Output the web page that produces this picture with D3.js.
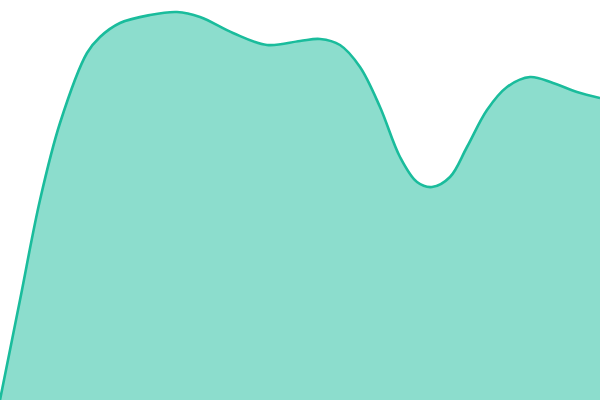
<!DOCTYPE html>
<html>
<head>
<meta charset="utf-8">
<script src="https://cdn.jsdelivr.net/npm/d3@7"></script>
<style>
  html, body { margin: 0; padding: 0; background: #fff; }
  svg { display: block; }
</style>
</head>
<body>
<svg id="chart" width="600" height="400"></svg>
<script>
"use strict";

// positions along the series (x) and values
var xs = [0, 20, 40, 60, 87, 100, 120, 150, 177, 200, 233, 267, 300, 320,
          340, 360, 380, 400, 417, 432, 450, 467, 487, 507, 530, 553, 577, 600];
var values = [0, 100, 200, 277, 347, 363, 377, 385, 388, 383, 367, 355, 359, 361,
              355, 333, 293, 243, 218, 213, 223, 253, 290, 313, 323, 317, 308, 302];

var width = 600, height = 400;
var svg = d3.select("#chart");

var x = d3.scaleLinear().domain([0, 600]).range([0, width]);
var y = d3.scaleLinear().domain([0, 400]).range([height, 0]);

var data = xs.map(function(d, i) { return { x: d, v: values[i] }; });

var area = d3.area()
  .x(function(d) { return x(d.x); })
  .y0(y(0))
  .y1(function(d) { return y(d.v); })
  .curve(d3.curveCatmullRom.alpha(0.5));

var line = d3.line()
  .x(function(d) { return x(d.x); })
  .y(function(d) { return y(d.v); })
  .curve(d3.curveCatmullRom.alpha(0.5));

svg.append("path")
  .datum(data)
  .attr("d", area)
  .attr("fill", "#1abc9c")
  .attr("fill-opacity", 0.5);

svg.append("path")
  .datum(data)
  .attr("d", line)
  .attr("fill", "none")
  .attr("stroke", "#1abc9c")
  .attr("stroke-width", 2.6);
</script>
</body>
</html>
